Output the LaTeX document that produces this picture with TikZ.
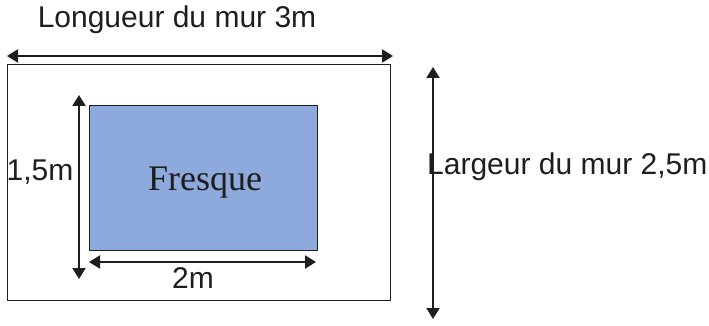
\documentclass[tikz,border=0pt]{standalone}
\usepackage{fontspec}
\setmainfont{Liberation Sans}
\newfontfamily\serifont{Liberation Serif}
\usetikzlibrary{arrows.meta}
\definecolor{fresco}{HTML}{8EA9DB}
\definecolor{ink}{HTML}{1E1E1E}
\tikzset{
  dim/.style={line width=2.2pt, ink, {Triangle[length=11pt,width=13pt]}-{Triangle[length=11pt,width=13pt]}},
  lbl/.style={inner sep=0pt, text=ink, font=\fontsize{30}{31}\selectfont},
  box/.style={draw=ink, line width=1.4pt, inner sep=0pt}
}
\begin{document}
\begin{tikzpicture}[x=1pt,y=-1pt]
\useasboundingbox (0,0) rectangle (709,326);
\node[box, minimum width=383pt, minimum height=236pt, anchor=north west] (wall) at (7,64) {};
\node[box, fill=fresco, minimum width=228pt, minimum height=145pt, anchor=north west] (fresque) at (89,105) {};
\node[inner sep=0pt, text=ink, font=\serifont\fontsize{36}{38}\selectfont] (ftext) at (205,183) {Fresque};
\coordinate (tl) at (7,56);
\coordinate (tr) at (393,56);
\draw[dim] (tl) -- (tr);
\coordinate (vl1) at (79,95);
\coordinate (vl2) at (79,279);
\draw[dim] (vl1) -- (vl2);
\coordinate (h1) at (89,262);
\coordinate (h2) at (316,262);
\draw[dim] (h1) -- (h2);
\coordinate (vr1) at (433,67);
\coordinate (vr2) at (433,319);
\draw[dim] (vr1) -- (vr2);
\node[lbl] (longueur) at (177,20) {Longueur du mur 3m};
\node[lbl, anchor=west] (largeur) at (427,167) {Largeur du mur 2,5m};
\node[lbl] (l15) at (40,172) {1,5m};
\node[lbl] (l2) at (193,278) {2m};
\end{tikzpicture}
\end{document}
